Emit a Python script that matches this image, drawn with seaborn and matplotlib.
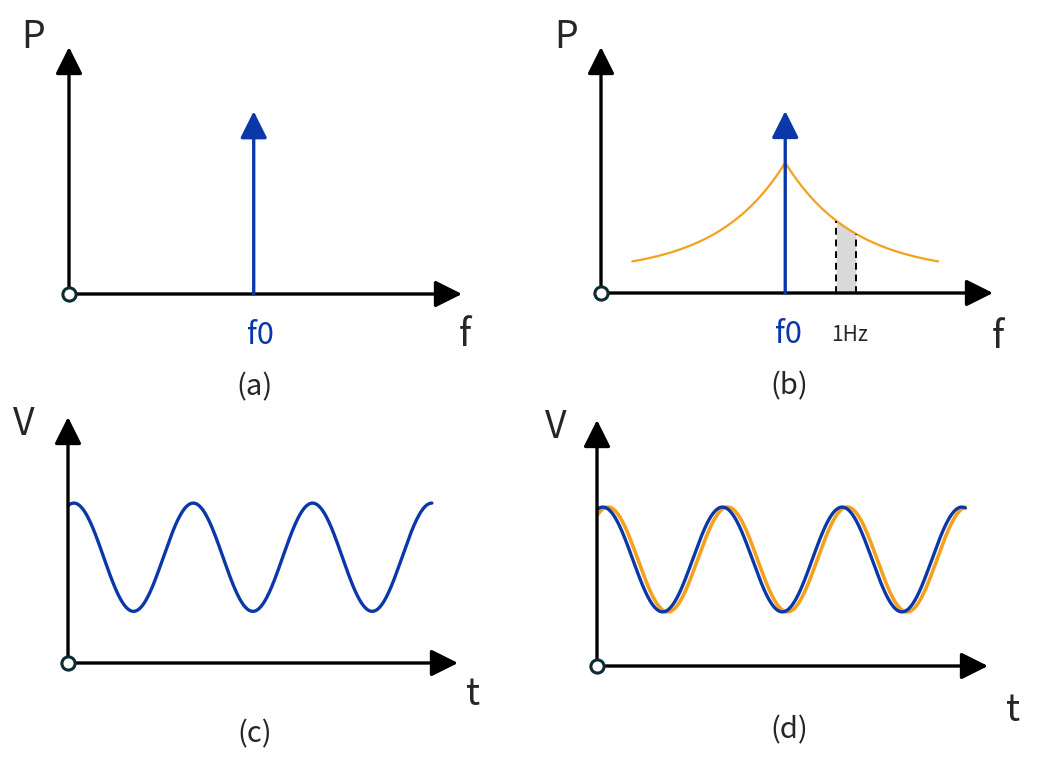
import numpy as np
import matplotlib
matplotlib.use("Agg")
import matplotlib.pyplot as plt
import seaborn as sns

# spectrum panels (a), (b): frequency axis runs 0..10, power 0..1
f0 = 4.7
p_line = 0.74
band_lo, band_hi = 6.0, 6.5
curve_f_start, curve_f_end = 0.8, 8.6
curve_base, curve_amp, curve_width = 0.08, 0.45, 1.75

# time panels (c), (d): time axis runs 0..10, voltage 0..1
wave_period = 3.06
wave_peak = 0.15
wave_mean_c, wave_amp_c, wave_end_c = 0.43, 0.22, 9.33
wave_mean_d, wave_amp_d, wave_end_d = 0.433, 0.213, 9.42
wave_shift_d = 0.13

BLUE = "#0b38a8"
ORANGE = "#f4a11e"

sns.set_theme(style="white")
plt.rcParams["font.family"] = ["Noto Sans CJK JP", "DejaVu Sans"]

W, H = 1051, 777
fig = plt.figure(figsize=(W / 100, H / 100), dpi=100)


def panel(ox, oy, xtip, ytip):
    # axes box from origin pixel to arrow tips
    ax = fig.add_axes([ox / W, (H - oy) / H, (xtip - ox) / W, (oy - ytip) / H])
    ax.set_xlim(0, 10)
    ax.set_ylim(0, 1)
    ax.axis("off")
    arrow = dict(arrowstyle="-|>,head_length=0.4,head_width=0.2", color="black",
                 lw=2.4, mutation_scale=41, shrinkA=0, shrinkB=0)
    ax.annotate("", xy=(10, 0), xytext=(0, 0), arrowprops=arrow, annotation_clip=False)
    ax.annotate("", xy=(0, 1), xytext=(0, 0), arrowprops=arrow, annotation_clip=False)
    ax.plot(0, 0, "o", ms=9.5, mfc="white", mec="#0d2b33", mew=2.2, zorder=10, clip_on=False)
    return ax


def spike(ax):
    ax.annotate("", xy=(f0, p_line), xytext=(f0, 0), annotation_clip=False,
                arrowprops=dict(arrowstyle="-|>,head_length=0.4,head_width=0.2", color=BLUE,
                                lw=2.4, mutation_scale=41, shrinkA=0, shrinkB=0), zorder=5)


def spectrum(f):
    return curve_base + curve_amp * np.exp(-np.abs(f - f0) / curve_width)


def wave(t, mean, amp, shift=0.0):
    return mean + amp * np.cos(2 * np.pi * (t - wave_peak - shift) / wave_period)


big = 27
mid = 22
cap = 21

# (a)
ax = panel(69, 294, 462, 47)
spike(ax)
ax.text(-0.92, 1.04, "P", fontsize=big, ha="center", va="center")
ax.text(f0 + 0.18, -0.17, "f0", fontsize=mid, color=BLUE, ha="center", va="center")
ax.text(10.08, -0.17, "f", fontsize=big, ha="center", va="center")
ax.text(4.73, -0.38, "(a)", fontsize=cap, ha="center", va="center")

# (b)
ax = panel(601, 293, 993, 47)
f = np.linspace(curve_f_start, curve_f_end, 801)
sns.lineplot(x=f, y=spectrum(f), ax=ax, color=ORANGE, lw=1.6, zorder=3, sort=False)
fb = np.linspace(band_lo, band_hi, 50)
ax.fill_between(fb, 0, spectrum(fb), color="#d9d9d9", lw=0, zorder=2)
for x in (band_lo, band_hi):
    ax.plot([x, x], [0, spectrum(x)], color="black", lw=1.4, ls=(0, (3.5, 2.5)), zorder=3)
spike(ax)
ax.text(-0.89, 1.04, "P", fontsize=big, ha="center", va="center")
ax.text(f0 + 0.07, -0.17, "f0", fontsize=mid, color=BLUE, ha="center", va="center")
ax.text(6.35, -0.17, "1Hz", fontsize=15, ha="center", va="center")
ax.text(10.13, -0.18, "f", fontsize=big, ha="center", va="center")
ax.text(4.8, -0.38, "(b)", fontsize=cap, ha="center", va="center")

# (c)
ax = panel(68, 663, 458, 417)
t = np.linspace(0, wave_end_c, 600)
sns.lineplot(x=t, y=wave(t, wave_mean_c, wave_amp_c), ax=ax, color=BLUE, lw=2.4)
ax.text(-1.13, 0.97, "V", fontsize=big, ha="center", va="center")
ax.text(10.38, -0.13, "t", fontsize=big, ha="center", va="center")
ax.text(4.79, -0.29, "(c)", fontsize=cap, ha="center", va="center")

# (d)
ax = panel(597, 666, 988, 420)
t = np.linspace(0, wave_end_d, 600)
sns.lineplot(x=t, y=wave(t, wave_mean_d, wave_amp_d, wave_shift_d), ax=ax, color=ORANGE, lw=2.6)
sns.lineplot(x=t, y=wave(t, wave_mean_d, wave_amp_d), ax=ax, color=BLUE, lw=2.4)
ax.text(-1.05, 0.97, "V", fontsize=big, ha="center", va="center")
ax.text(10.64, -0.18, "t", fontsize=big, ha="center", va="center")
ax.text(4.91, -0.26, "(d)", fontsize=cap, ha="center", va="center")

fig.savefig("out.png", dpi=100)
